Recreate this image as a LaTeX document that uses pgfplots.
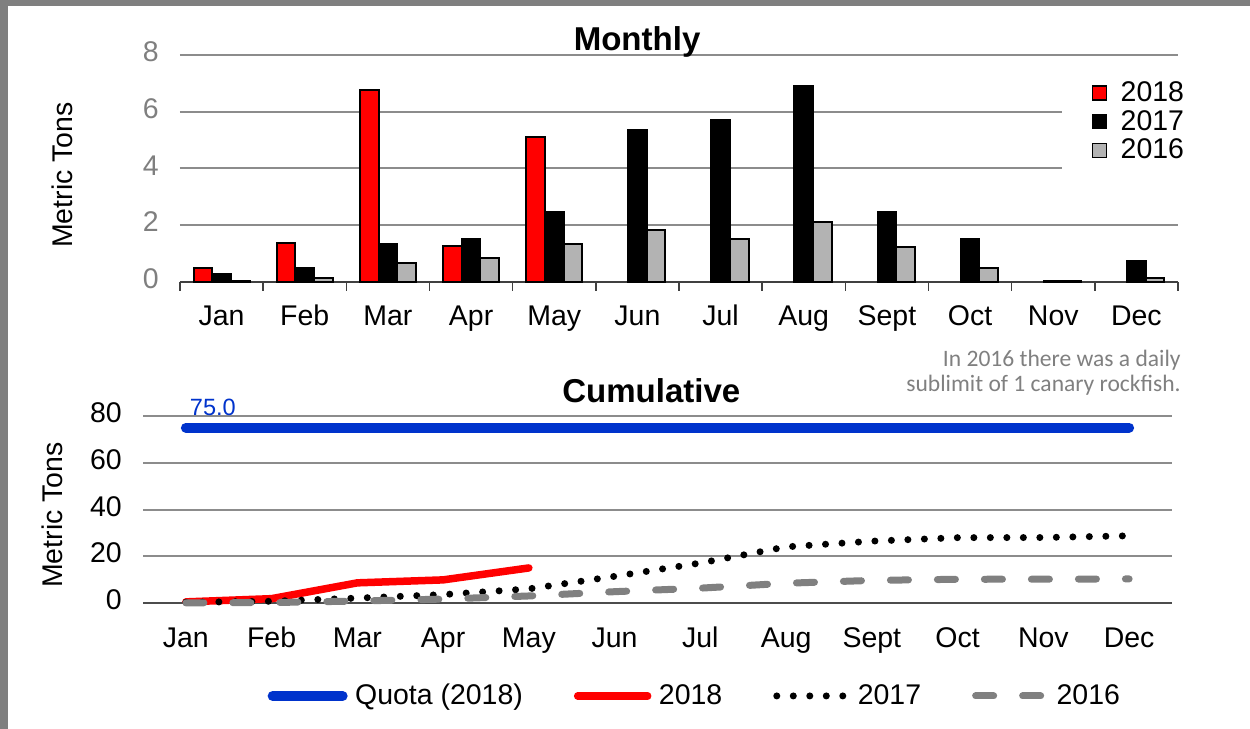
\documentclass[border=0pt]{standalone}
\usepackage{fontspec}
\setmainfont{Liberation Sans}
\newfontfamily\calibri{Carlito}
\usepackage{pgfplots}
\pgfplotsset{compat=1.18}

\definecolor{quota}{RGB}{0,51,204}
\definecolor{gridgray}{RGB}{140,140,140}
\definecolor{bargray}{RGB}{179,179,179}
\definecolor{linegray}{RGB}{128,128,128}
\definecolor{framegray}{RGB}{127,127,127}

\newcommand{\lbl}{\fontsize{16.2}{19}\selectfont}

\pgfplotsset{
  chartbase/.style={
    scale only axis, anchor=south west,
    xmin=-0.5, xmax=11.5,
    xtick={0,...,11},
    xticklabels={Jan,Feb,Mar,Apr,May,Jun,Jul,Aug,Sept,Oct,Nov,Dec},
    typeset ticklabels with strut,
    ymajorgrids, grid style={gridgray, line width=0.04cm},
    axis x line*=bottom, axis y line*=left,
    y axis line style={draw=none},
    major tick length=0pt,
    tick label style={font=\lbl},
    /pgf/number format/assume math mode=true,
    clip=false,
  },
  barleg/.style={legend image code/.code={%
    \draw[##1, line width=0.03cm] (0cm,-0.14cm) rectangle (0.28cm,0.14cm);}},
}

\begin{document}
\begin{tikzpicture}
% frame
\fill[framegray] (0,0) rectangle (25cm,14.58cm);
\fill[white] (0.16cm,0) rectangle (25cm,14.46cm);
\path[use as bounding box] (0,0) rectangle (25cm,14.58cm);

% ---------------- Monthly ----------------
\begin{axis}[chartbase,
  at={(3.6cm,8.94cm)},
  width=19.96cm, height=4.54cm,
  ymin=0, ymax=8, ytick={0,2,...,8},
  yticklabel style={text=framegray, xshift=-0.3cm},
  xticklabel style={yshift=-0.27cm},
  x axis line style={black!75, line width=0.03cm},
  minor xtick={-0.5,0.5,...,11.5},
  minor tick length=0.18cm, tick align=outside,
  minor x tick style={black!75, line width=0.03cm},
  title={\textbf{Monthly}},
  title style={at={(rel axis cs:0.458,1.012)}, anchor=center,
    font=\fontsize{18.8}{22}\selectfont},
  ylabel={Metric Tons},
  every axis y label/.style={at={(rel axis cs:-0.118,0.471)}, rotate=90,
    anchor=center, font=\lbl},
  legend style={at={(rel axis cs:1.04,0.915)}, anchor=north east,
    draw=none, fill=white, font=\lbl, row sep=-0.5pt, legend cell align=left,
    inner xsep=0.6cm,
    /tikz/every odd column/.append style={column sep=0.2cm}},
]
\addplot[ybar, bar width=0.374cm, bar shift=-0.374cm, fill=red, draw=black,
  line width=0.04cm, barleg] coordinates {
  (0,0.48) (1,1.38) (2,6.76) (3,1.27) (4,5.11)
};
\addlegendentry{2018}
\addplot[ybar, bar width=0.374cm, bar shift=0cm, fill=black, draw=black,
  line width=0.04cm, barleg] coordinates {
  (0,0.27) (1,0.48) (2,1.35) (3,1.50) (4,2.45) (5,5.35)
  (6,5.70) (7,6.91) (8,2.45) (9,1.50) (10,0.05) (11,0.74)
};
\addlegendentry{2017}
\addplot[ybar, bar width=0.374cm, bar shift=0.374cm, fill=bargray, draw=black,
  line width=0.04cm, barleg] coordinates {
  (0,0.05) (1,0.13) (2,0.66) (3,0.83) (4,1.34) (5,1.83)
  (6,1.51) (7,2.10) (8,1.22) (9,0.48) (10,0.03) (11,0.13)
};
\addlegendentry{2016}
\end{axis}

% ---------------- Cumulative ----------------
\begin{axis}[chartbase,
  at={(2.86cm,2.52cm)},
  width=20.58cm, height=3.74cm,
  ymin=0, ymax=80, ytick={0,20,...,80},
  yticklabel style={xshift=-0.3cm},
  xticklabel style={yshift=-0.3cm},
  x axis line style={black!70, line width=0.03cm},
  title={\textbf{Cumulative}},
  title style={at={(rel axis cs:0.494,1.08)}, anchor=center,
    font=\fontsize{18.8}{22}\selectfont},
  ylabel={Metric Tons},
  every axis y label/.style={at={(rel axis cs:-0.088,0.47)}, rotate=90,
    anchor=center, font=\lbl},
  legend columns=4,
  legend style={at={(rel axis cs:0.537,-0.497)}, anchor=center,
    draw=none, font=\lbl,
    /tikz/every odd column/.append style={column sep=0.08cm},
    /tikz/every even column/.append style={column sep=0.95cm}},
  legend image code/.code={\draw[#1] (0.08cm,0cm) -- (1.48cm,0cm);},
]
\addplot[quota, line width=0.2cm, line cap=round] coordinates {
  (0,75) (1,75) (2,75) (3,75) (4,75) (5,75)
  (6,75) (7,75) (8,75) (9,75) (10,75) (11,75)
};
\addlegendentry{Quota (2018)}
\addplot[red, line width=0.15cm, line cap=round, line join=round] coordinates {
  (0,0.48) (1,1.86) (2,8.62) (3,9.89) (4,15.0)
};
\addlegendentry{2018}
\addplot[black, line width=0.14cm, line cap=round, dash pattern=on 0pt off 0.33cm]
  coordinates {
  (0,0.27) (1,0.75) (2,2.10) (3,3.60) (4,6.05) (5,11.40)
  (6,17.10) (7,24.01) (8,26.46) (9,27.96) (10,28.01) (11,28.75)
};
\addlegendentry{2017}
\addplot[linegray, line width=0.14cm, line cap=round, dash pattern=on 0.36cm off 0.58cm]
  coordinates {
  (0,0.05) (1,0.18) (2,0.84) (3,1.67) (4,3.01) (5,4.84)
  (6,6.35) (7,8.45) (8,9.67) (9,10.15) (10,10.18) (11,10.31)
};
\addlegendentry{2016}
\node[text=quota, font=\fontsize{13.4}{16}\selectfont, xshift=0.54cm, yshift=0.41cm]
  at (axis cs:0,75) {75.0};
\end{axis}

% note
\node[anchor=base east, inner sep=0pt, text=linegray, font=\calibri\fontsize{13.4}{16}\selectfont]
  at (23.62cm,7.24cm) {In 2016 there was a daily};
\node[anchor=base east, inner sep=0pt, text=linegray, font=\calibri\fontsize{13.4}{16}\selectfont]
  at (23.62cm,6.74cm) {sublimit of 1 canary rockfish.};
\end{tikzpicture}
\end{document}
